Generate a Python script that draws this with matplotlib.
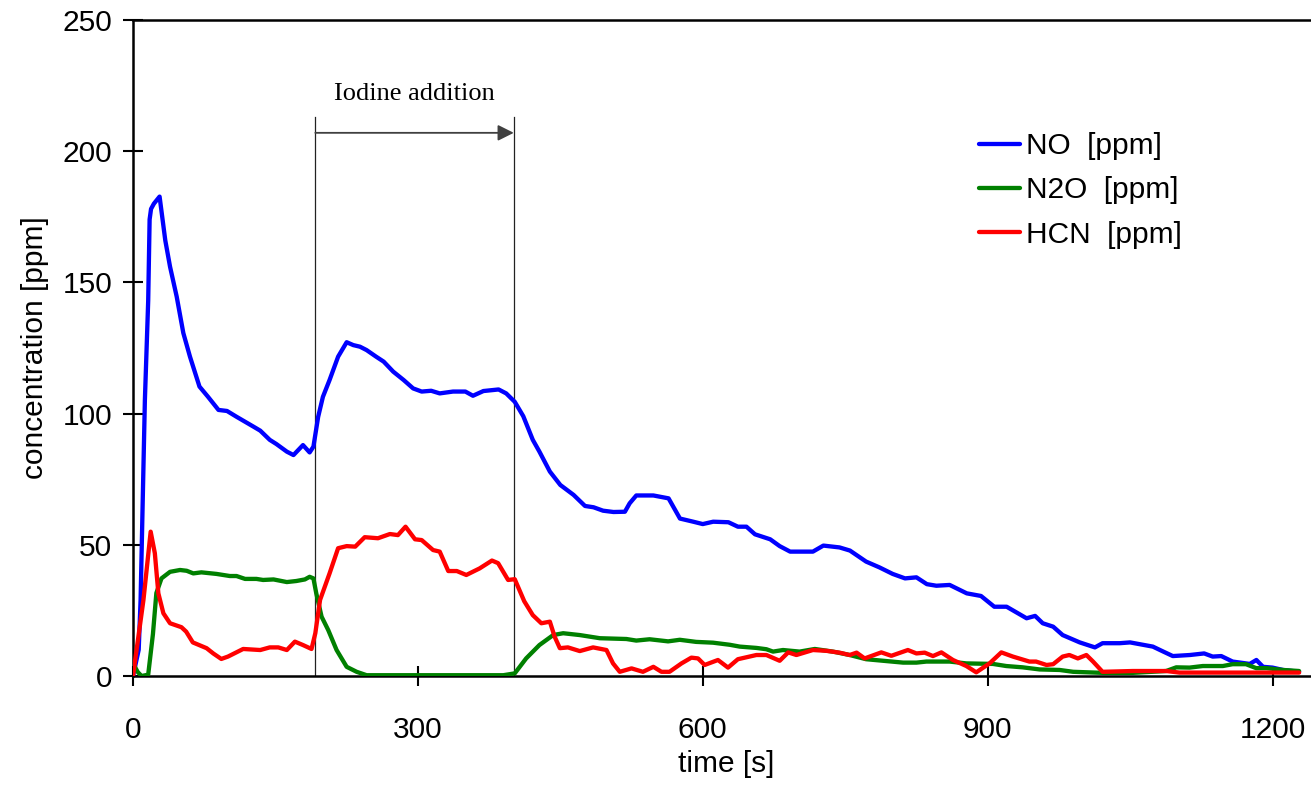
import matplotlib
matplotlib.use("Agg")
import matplotlib.pyplot as plt

# time [s] / concentration [ppm]
no_t = [0, 6, 8, 12.5, 16, 17.5, 19, 22, 28, 34, 39, 46, 53, 60, 70, 79, 90, 99, 109,
        127, 134, 144, 151, 162, 169, 179, 186, 190, 195, 200, 207, 216, 225, 232, 239,
        246, 256, 264, 274, 285, 295, 304, 314, 323, 337, 350, 358, 369, 385, 393, 402,
        411, 421, 428, 439, 450, 464, 476, 485, 495, 506, 518, 523, 530, 548, 564, 576,
        590, 600, 611, 627, 637, 646, 655, 671, 681, 692, 716, 727, 744, 755, 772, 786,
        800, 813, 825, 836, 846, 860, 878, 893, 907, 920, 941, 950, 958, 969, 979, 997,
        1013, 1021, 1039, 1050, 1074, 1085, 1095, 1113, 1128, 1137, 1146, 1158, 1176,
        1183, 1190, 1200, 1211, 1228]
no_ppm = [0, 10, 29, 105, 143, 174, 178, 180, 182.7, 166, 156, 144.6, 130.7, 121.7, 110.3,
          106.4, 101.4, 101, 98.8, 95, 93.5, 90, 88.4, 85.5, 84.2, 88, 85.2, 87.4, 98.8,
          106.4, 112.8, 121.7, 127.2, 126.1, 125.5, 124.2, 121.7, 119.8, 116, 112.8, 109.6,
          108.4, 108.7, 107.7, 108.4, 108.4, 106.8, 108.6, 109.2, 107.7, 104.5, 99, 90,
          85.5, 77.9, 72.8, 69, 64.8, 64.3, 63, 62.5, 62.6, 65.8, 68.8, 68.8, 67.7, 60,
          58.8, 57.9, 58.8, 58.6, 56.9, 56.9, 54, 52.1, 49.5, 47.4, 47.4, 49.7, 49, 47.8,
          43.6, 41.4, 38.9, 37.2, 37.6, 35, 34.4, 34.7, 31.5, 30.5, 26.4, 26.4, 22, 22.9,
          20.1, 18.8, 15.6, 12.8, 10.9, 12.5, 12.5, 12.8, 11.2, 9.3, 7.6, 8.0, 8.6, 7.4,
          7.6, 5.5, 4.6, 6.1, 3.5, 3.2, 2.3, 1.6]

n2o_t = [0, 5, 9, 16, 21, 24.6, 30, 39, 49.5, 56.5, 63.5, 72, 88, 102, 109, 118, 130, 137,
         148, 162, 172, 181, 186, 190, 193, 198.6, 205.6, 214.4, 225, 235.5, 246, 390, 402,
         414, 428, 442.5, 453, 470.5, 491.6, 519.6, 530, 544, 563.5, 575.8, 593, 610.8,
         628.4, 639, 656.5, 667, 674, 684.5, 702, 718, 737, 754.7, 772, 790, 811, 825,
         835.5, 860, 877.6, 905.6, 919.6, 937, 954.7, 975.8, 990, 1021, 1053, 1088, 1098.6,
         1112.6, 1126.6, 1147.7, 1158, 1172, 1182.8, 1193.7, 1211, 1228]
n2o_ppm = [4.8, 1.5, 0, 0.5, 16, 31.6, 37.2, 39.7, 40.4, 40.1, 39.1, 39.5, 38.9, 38.1, 38.1,
           37, 37, 36.6, 36.8, 35.8, 36.2, 36.8, 37.8, 37.2, 31.5, 22.6, 17.5, 9.9, 3.5, 1.6,
           0.3, 0.3, 1, 6.7, 11.8, 15.6, 16.3, 15.6, 14.4, 14.1, 13.5, 14, 13.2, 13.8, 13,
           12.7, 11.9, 11.2, 10.7, 10.2, 9.3, 9.9, 9.3, 10.3, 9.3, 8, 6.4, 5.8, 5.1, 5.1,
           5.5, 5.5, 4.8, 4.6, 3.8, 3.3, 2.5, 2.3, 1.6, 1.2, 1.2, 1.9, 3.3, 3.2, 3.8, 3.8,
           4.5, 4.5, 3, 3, 2.3, 1.9]

hcn_t = [0, 11, 18.6, 23, 26.7, 32, 39, 51, 56, 63, 77.5, 84.5, 93, 100, 116, 134, 144, 153,
         162, 170.5, 179, 188, 192, 197, 207, 216, 225, 234, 244, 258, 270.5, 279, 287, 297,
         304, 316, 323, 332, 341, 351, 365, 378, 384.5, 395, 402, 412, 421, 430, 439, 444,
         449.5, 458, 470.5, 484.5, 498.6, 505.5, 512.6, 525, 537, 548, 556.5, 565, 577.6,
         588, 595, 602, 616, 626.6, 637, 656.5, 667, 681, 690, 698.6, 716, 730, 744, 754.7,
         762, 770.5, 788, 798.6, 816, 825, 833.7, 842.4, 851.3, 863.5, 877.6, 888, 902,
         914.4, 926.6, 944, 951, 962, 969, 979, 986, 995, 1004, 1011, 1021, 1053, 1088,
         1102, 1228]
hcn_ppm = [0, 29, 55, 46.8, 31.5, 23.9, 20.1, 18.6, 16.9, 12.8, 10.6, 8.6, 6.5, 7.4, 10.3,
           9.9, 10.9, 10.9, 9.9, 13.1, 11.8, 10.3, 16.3, 29, 39.1, 48.7, 49.5, 49.3, 52.9,
           52.5, 54.1, 53.7, 56.9, 52.1, 51.8, 48, 47.4, 40, 40, 38.5, 41, 44, 43, 36.6,
           36.9, 28.5, 23.2, 20.1, 20.7, 15, 10.6, 10.9, 9.5, 10.9, 9.9, 4.8, 1.6, 2.9, 1.6,
           3.5, 1.6, 1.6, 4.8, 7, 6.7, 4.2, 6.1, 3.2, 6.4, 8, 8, 5.8, 9, 8, 9.9, 9.6, 8.9,
           8, 8.9, 6.7, 9, 7.7, 9.9, 8.6, 8.9, 7.6, 9, 6.1, 3.8, 1.4, 4.8, 9, 7.4, 5.5, 5.5,
           4.2, 4.5, 7.4, 8, 6.7, 8, 5.5, 1.6, 1.9, 1.9, 1.3, 1.3]

iodine_start, iodine_end = 192, 401

plt.rcParams["font.family"] = ["Liberation Sans", "DejaVu Sans"]
plt.rcParams["font.size"] = 21.5

fig = plt.figure(figsize=(13.11, 8.05), dpi=100)
ax = fig.add_axes([133 / 1311, 1 - 676 / 805, 1187 / 1311, 656 / 805])

line_kw = dict(lw=3.1, solid_joinstyle="round", solid_capstyle="round", zorder=3)
ax.plot(no_t, no_ppm, color="#0000ff", label="NO  [ppm]", **line_kw)
ax.plot(n2o_t, n2o_ppm, color="#008000", label="N2O  [ppm]", **line_kw)
ax.plot(hcn_t, hcn_ppm, color="#ff0000", label="HCN  [ppm]", **line_kw)

# iodine addition window
for x in (iodine_start, iodine_end):
    ax.plot([x, x], [0, 213], color="#222222", lw=0.9, zorder=2)
ax.annotate("", xy=(iodine_end, 207), xytext=(iodine_start, 207),
            arrowprops=dict(arrowstyle="-|>", color="#404040", lw=1.3,
                            mutation_scale=24, shrinkA=0, shrinkB=0))
ax.text((iodine_start + iodine_end) / 2, 219.5, "Iodine addition", ha="center",
        va="baseline", fontsize=19, family=["Liberation Serif", "DejaVu Serif"])

ax.set_xlim(0, 1250)
ax.set_ylim(0, 250)
ax.set_xticks([0, 300, 600, 900, 1200])
ax.set_yticks([0, 50, 100, 150, 200, 250])
ax.tick_params(axis="both", direction="inout", length=14, width=1.5, colors="black")
ax.tick_params(axis="x", pad=22)
ax.tick_params(axis="y", pad=8)
ax.spines["right"].set_visible(False)
for s in ("left", "bottom", "top"):
    ax.spines[s].set_linewidth(1.8)

ax.set_xlabel("time [s]", labelpad=4)
ax.set_ylabel("concentration [ppm]", labelpad=10)

ax.legend(loc="upper left", bbox_to_anchor=(979 / 1311, 1 - 132 / 805),
          bbox_transform=fig.transFigure, frameon=False, borderpad=0,
          borderaxespad=0, handlelength=1.37, handletextpad=0.2, labelspacing=0.55)

fig.savefig("out.png", dpi=100)
